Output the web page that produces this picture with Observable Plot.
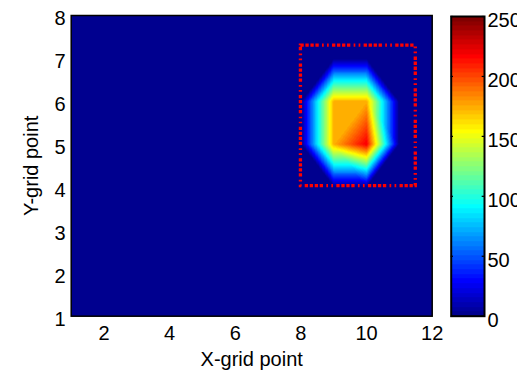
<!DOCTYPE html>
<html><head><meta charset="utf-8">
<script src="https://cdn.jsdelivr.net/npm/d3@7"></script>
<script src="https://cdn.jsdelivr.net/npm/@observablehq/plot@0.6"></script>
<style>
body{margin:0;background:#fff;}
#wrap{position:relative;width:517px;height:373px;overflow:hidden;background:#fff;}
#wrap svg{position:absolute;top:0;left:0;}
</style></head><body><div id="wrap"></div>
<script>
// grid coordinates
const xGrid = [1,2,3,4,5,6,7,8,9,10,11,12];
const yGrid = [1,2,3,4,5,6,7,8];
// grid values, rows listed from y = 8 (top) down to y = 1 (bottom)
const zRows = [
  [0,0,0,0,0,0,0,0,0,0,0,0],       // y=8
  [0,0,0,0,0,0,0,0,0,0,0,0],       // y=7
  [0,0,0,0,0,0,0,0,174,174,0,0],   // y=6
  [0,0,0,0,0,0,0,0,174,220,0,0],   // y=5
  [0,0,0,0,0,0,0,0,0,0,0,0],       // y=4
  [0,0,0,0,0,0,0,0,0,0,0,0],       // y=3
  [0,0,0,0,0,0,0,0,0,0,0,0],       // y=2
  [0,0,0,0,0,0,0,0,0,0,0,0]        // y=1
];
const xTicks = [2,4,6,8,10,12];
const yTicks = [1,2,3,4,5,6,7,8];
const cTicks = [0,50,100,150,200,250];
const cLimits = [0,250];
const roiX = [8.0, 11.5];
const roiY = [4.03, 7.3];
const xTitle = "X-grid point";
const yTitle = "Y-grid point";

// MATLAB jet(64) colormap
function jetMap(m){
  const n = Math.ceil(m/4);
  const u = [...d3.range(1,n+1).map(k=>k/n), ...Array(n-1).fill(1), ...d3.range(n,0,-1).map(k=>k/n)];
  const g0 = Math.ceil(n/2) - (m%4===1?1:0);
  const r = Array(m).fill(0), g = Array(m).fill(0), b = Array(m).fill(0);
  u.forEach((val,k)=>{
    const gi = g0 + k + 1, ri = gi + n, bi = gi - n;
    if (ri>=1 && ri<=m) r[ri-1]=val;
    if (gi>=1 && gi<=m) g[gi-1]=val;
    if (bi>=1 && bi<=m) b[bi-1]=val;
  });
  return d3.range(m).map(i=>d3.rgb(r[i]*255,g[i]*255,b[i]*255).formatHex());
}
const NC = 64;
const jet = jetMap(NC);
const thresholds = d3.range(1,NC).map(k=>cLimits[0]+k*(cLimits[1]-cLimits[0])/NC);
const colorScale = {type:"threshold", domain:thresholds, range:jet};

// piecewise-linear (triangulated) interpolation of the grid, like shading interp
function zAt(ix, iy){ return zRows[yGrid.length-1-iy][ix]; }
function interp(x, y){
  const fx = x - xGrid[0], fy = y - yGrid[0];
  const i = Math.min(Math.max(Math.floor(fx),0), xGrid.length-2);
  const j = Math.min(Math.max(Math.floor(fy),0), yGrid.length-2);
  const u = fx - i, v = fy - j;
  const a = zAt(i,j), b = zAt(i+1,j), c = zAt(i,j+1), d = zAt(i+1,j+1);
  const m = Math.max(a,b,c,d);
  if (a===m || d===m) {
    if (u+v <= 1) return a + (b-a)*u + (c-a)*v;
    return d + (c-d)*(1-u) + (b-d)*(1-v);
  } else {
    if (u >= v) return a + (b-a)*u + (d-b)*v;
    return a + (d-c)*u + (c-a)*v;
  }
}

const FONT = "'Liberation Sans', Arial, sans-serif";
const FS = 20;

const main = Plot.plot({
  width: 517, height: 373,
  marginLeft: 70.7, marginRight: 85.3, marginTop: 15, marginBottom: 57.3,
  style: {fontFamily: FONT, fontSize: FS+"px", background: "transparent", color: "#000"},
  x: {domain: [xGrid[0], xGrid[xGrid.length-1]], axis: null},
  y: {domain: [yGrid[0], yGrid[yGrid.length-1]], axis: null},
  color: colorScale,
  marks: [
    Plot.raster({x1: xGrid[0], x2: xGrid[xGrid.length-1], y1: yGrid[0], y2: yGrid[yGrid.length-1], fill: interp, pixelSize: 1}),
    Plot.rect([{x1: roiX[0], x2: roiX[1], y1: roiY[0], y2: roiY[1]}], {x1:"x1", x2:"x2", y1:"y1", y2:"y2", fill: "none", stroke: "#ff0000", strokeWidth: 3.3, strokeDasharray: "3.3,1.7,3.3,1.7,3.3,1.7,3.3,3.3,1.7,3.3,1.7,3.3"}),
    Plot.frame({stroke: "#000", strokeWidth: 1.5}),
    Plot.text(xTicks, {x: d=>d, frameAnchor: "bottom", dy: 17.3, lineAnchor: "middle", textAnchor: "middle", fontSize: FS, fill: "#000"}),
    Plot.text(yTicks, {y: d=>d, frameAnchor: "left", dx: -5.7, dy: 3.2, lineAnchor: "middle", textAnchor: "end", fontSize: FS, fill: "#000"}),
    Plot.text([xTitle], {frameAnchor: "bottom", dy: 43, lineAnchor: "middle", textAnchor: "middle", fontSize: FS, fill: "#000"}),
    Plot.text([yTitle], {frameAnchor: "left", dx: -40, rotate: -90, lineAnchor: "middle", textAnchor: "middle", fontSize: FS, fill: "#000"})
  ]
});

const cbar = Plot.plot({
  width: 517, height: 373,
  marginLeft: 450.7, marginRight: 33, marginTop: 16, marginBottom: 57.3,
  style: {fontFamily: FONT, fontSize: FS+"px", background: "transparent", color: "#000"},
  x: {domain: [0,1], axis: null},
  y: {domain: cLimits, axis: null},
  color: colorScale,
  marks: [
    Plot.raster({x1: 0, x2: 1, y1: cLimits[0], y2: cLimits[1], fill: (x,y)=>y, pixelSize: 1}),
    Plot.ruleY(cTicks, {y: d=>d, x1: 0, x2: 0.07, stroke: "#000", strokeWidth: 1.2}),
    Plot.ruleY(cTicks, {y: d=>d, x1: 0.93, x2: 1, stroke: "#000", strokeWidth: 1.2}),
    Plot.frame({stroke: "#000", strokeWidth: 2}),
    Plot.text(cTicks, {y: d=>d, frameAnchor: "right", dx: 3, dy: 4, lineAnchor: "middle", textAnchor: "start", fontSize: FS, fill: "#000"})
  ]
});

const wrap = document.getElementById("wrap");
wrap.appendChild(main);
wrap.appendChild(cbar);
</script>
</body></html>
